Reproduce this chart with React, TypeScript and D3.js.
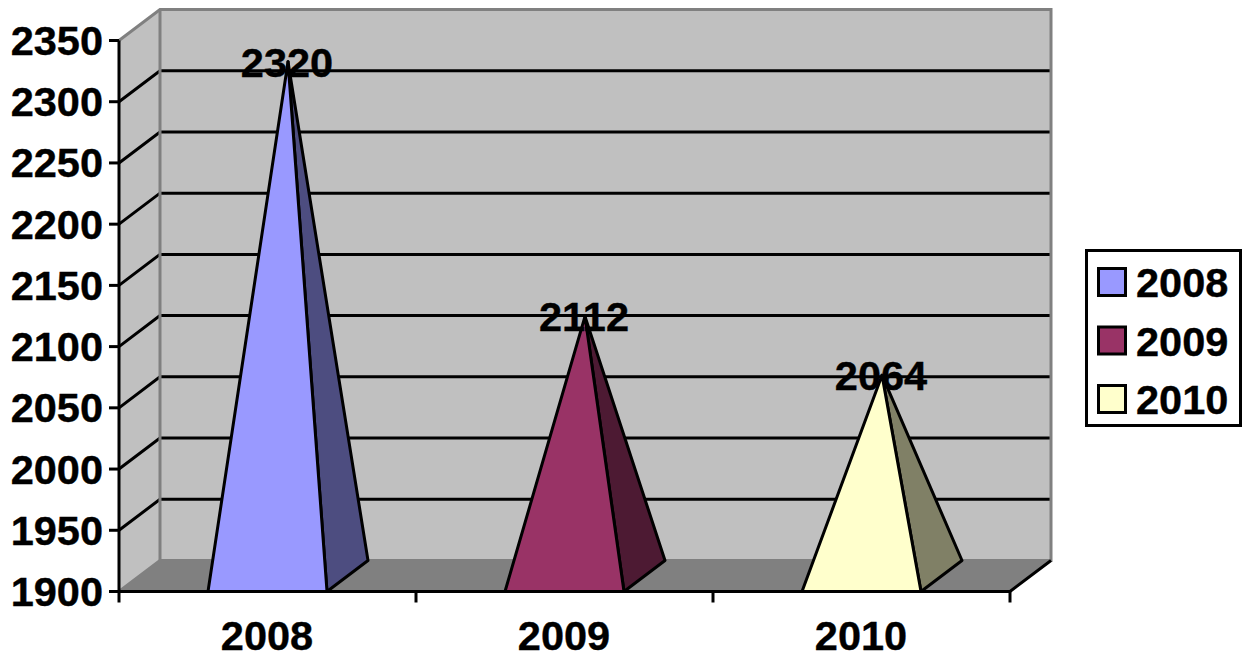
import React from "react";
import * as d3 from "d3";

const years = ["2008", "2009", "2010"];
const values = [2320, 2112, 2064];
const yTicks = [1900, 1950, 2000, 2050, 2100, 2150, 2200, 2250, 2300, 2350];
const frontColors = ["#9999ff", "#993366", "#ffffcc"];
const sideColors = ["#4d4d80", "#4d1a33", "#808066"];

const W = 1248;
const H = 656;
const left = 119;
const right = 1010;
const floorY = 591.5;
const topY = 40.5;
const depthX = 41;
const depthY = -31;
const GREY = "#808080";
const WALL = "#c0c0c0";
const FONT = "'Liberation Sans', Arial, sans-serif";
const LINE = 3;
const TEXT_SIZE = 41.5;
const TEXT_WEIGHT = 0.4;

const y = d3.scaleLinear().domain([1900, 2350]).range([floorY, topY]);
const x = d3.scaleBand().domain(years).range([left, right]).paddingInner(0.6).paddingOuter(0.3);
const slot = (right - left) / years.length;
const baseWidth = 119;
const path = d3.line();

type P = [number, number];
const poly = (pts: P[]) => path(pts) + "Z";

export default function App() {
  const yMin = y(1900);
  const yMax = y(2350);
  return (
    <svg
      width={W}
      height={H}
      viewBox={`0 0 ${W} ${H}`}
      style={{ position: "absolute", left: 0, top: 0, background: "#fff" }}
      fontFamily={FONT}
      fontWeight="bold"
    >
      {/* side wall, back wall and floor */}
      <path d={poly([[left, yMin], [left + depthX, yMin + depthY], [left + depthX, yMax + depthY], [left, yMax]])} fill={WALL} />
      <path d={poly([[left + depthX, yMin + depthY], [right + depthX, yMin + depthY], [right + depthX, yMax + depthY], [left + depthX, yMax + depthY]])} fill={WALL} />
      <path d={poly([[left, yMin], [right, yMin], [right + depthX, yMin + depthY], [left + depthX, yMin + depthY]])} fill={GREY} />

      {/* gridlines run along the side wall and across the back */}
      {yTicks.slice(1, -1).map((t) => (
        <path
          key={t}
          d={path([[left, y(t)], [left + depthX, y(t) + depthY], [right + depthX, y(t) + depthY]]) ?? ""}
          fill="none"
          stroke="#000"
          strokeWidth={LINE}
        />
      ))}

      {/* wall edges */}
      <path
        d={path([[left, yMax], [left + depthX, yMax + depthY], [right + depthX, yMax + depthY], [right + depthX, yMin + depthY], [left + depthX, yMin + depthY], [left, yMin]]) ?? ""}
        fill="none"
        stroke={GREY}
        strokeWidth={LINE}
      />
      <path d={path([[left + depthX, yMax + depthY], [left + depthX, yMin + depthY]]) ?? ""} stroke={GREY} strokeWidth={LINE} fill="none" />

      {/* floor front edge and right edge, axes and ticks */}
      <path d={path([[left, yMin], [right, yMin], [right + depthX, yMin + depthY]]) ?? ""} fill="none" stroke="#000" strokeWidth={LINE} />
      <path d={path([[left, yMax], [left, yMin + 11]]) ?? ""} fill="none" stroke="#000" strokeWidth={LINE} />
      {yTicks.map((t) => (
        <path key={t} d={path([[left - 10, y(t)], [left, y(t)]]) ?? ""} stroke="#000" strokeWidth={LINE} />
      ))}
      {d3.range(years.length + 1).slice(1).map((i) => (
        <path key={i} d={path([[left + i * slot, yMin], [left + i * slot, yMin + 11]]) ?? ""} stroke="#000" strokeWidth={LINE} />
      ))}

      {/* pyramids: a front face and a shaded right face meeting at the apex */}
      {years.map((year, i) => {
        const mid = (x(year) ?? 0) + x.bandwidth() / 2;
        const x0 = mid - baseWidth / 2;
        const x1 = mid + baseWidth / 2;
        const apex: P = [mid + depthX / 2, y(values[i]) + depthY / 2];
        return (
          <g key={year} stroke="#000" strokeWidth={LINE} strokeLinejoin="round">
            <path d={poly([[x1, yMin], [x1 + depthX, yMin + depthY], apex])} fill={sideColors[i]} />
            <path d={poly([[x0, yMin], [x1, yMin], apex])} fill={frontColors[i]} />
          </g>
        );
      })}

      <g fontSize={TEXT_SIZE} fill="#000" stroke="#000" strokeWidth={TEXT_WEIGHT}>
        {/* value labels sit on the apex */}
        {years.map((year, i) => {
          const mid = (x(year) ?? 0) + x.bandwidth() / 2;
          return (
            <text key={year} x={mid + depthX / 2 - 1} y={y(values[i]) + depthY / 2 + 15} textAnchor="middle">
              {values[i]}
            </text>
          );
        })}

        {/* axis labels */}
        {yTicks.map((t) => (
          <text key={t} x={103} y={y(t) + 14.5} textAnchor="end">
            {t}
          </text>
        ))}
        {years.map((year) => (
          <text key={year} x={(x(year) ?? 0) + x.bandwidth() / 2 - 0.5} y={650} textAnchor="middle">
            {year}
          </text>
        ))}
      </g>

      {/* legend */}
      <rect x={1086.5} y={250.5} width={154} height={175} fill="#fff" stroke="#000" strokeWidth={LINE} />
      {years.map((year, i) => (
        <g key={year}>
          <rect x={1098.5} y={268.5 + i * 58.5} width={27} height={27} fill={frontColors[i]} stroke="#000" strokeWidth={LINE} />
          <text x={1136} y={297 + i * 58.5} fontSize={TEXT_SIZE} stroke="#000" strokeWidth={TEXT_WEIGHT}>
            {year}
          </text>
        </g>
      ))}
    </svg>
  );
}
